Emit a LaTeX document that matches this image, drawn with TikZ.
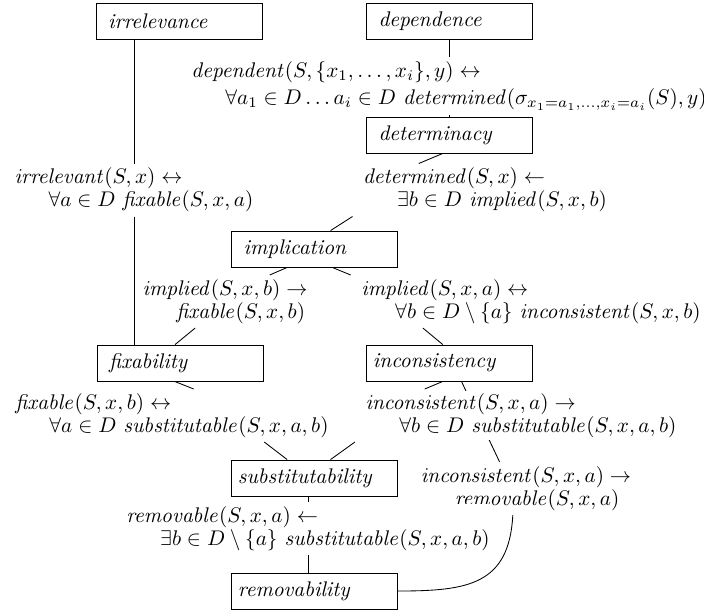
\documentclass[tikz,border=0pt]{standalone}
\usepackage{amsmath,amssymb}
\usetikzlibrary{calc,backgrounds}
\newcommand{\prd}[1]{\mathit{#1}}
\newcommand{\ind}{\hspace*{16pt}}
\newcommand{\labfont}{\fontsize{10}{11}\selectfont\lineskiplimit=-100pt\relax}

\begin{document}
\begin{tikzpicture}[x=0.4717pt,y=-0.4717pt,
    box/.style={draw,text width=66.9pt,inner xsep=5.7pt,minimum height=17pt,align=left,font=\itshape},
    wbox/.style={box,text width=72.3pt,inner xsep=3pt},
    lab/.style={fill=white,inner sep=1pt,outer xsep=4pt,outer ysep=1pt,align=left,font=\labfont}]
  \useasboundingbox (0,0) rectangle (704,611);
  % notions
  \node[box] (irr) at (179,21) {irrelevance};
  \node[box] (dep) at (449.5,21) {dependence};
  \node[box] (det) at (449.5,135) {determinacy};
  \node[box] (imp) at (314.5,249) {implication};
  \node[box] (fix) at (180,363) {fixability};
  \node[wbox] (inc) at (449.5,363) {inconsistency};
  \node[wbox] (sub) at (314.5,478) {substitutability};
  \node[wbox] (rem) at (314.5,591) {removability};
  % relations between them
  \node[lab] (depl) at (449,86) {$\prd{dependent}(S,\{x_1,\ldots,x_i\},y)\leftrightarrow$\\[2pt]
    \ind$\forall a_1\in D\ldots a_i\in D\ \prd{determined}(\sigma_{x_1=a_1,\ldots,x_i=a_i}(S),y)$};
  \node[lab] (irrl) at (134,190) {$\prd{irrelevant}(S,x)\leftrightarrow$\\
    \ind$\forall a\in D\ \prd{fixable}(S,x,a)$};
  \node[lab] (detl) at (485,190) {$\prd{determined}(S,x)\leftarrow$\\
    \ind$\exists b\in D\ \prd{implied}(S,x,b)$};
  \node[lab] (implb) at (225,301.5) {$\prd{implied}(S,x,b)\rightarrow$\\
    \ind$\prd{fixable}(S,x,b)$};
  \node[lab] (impla) at (531,301.5) {$\prd{implied}(S,x,a)\leftrightarrow$\\
    \ind$\forall b\in D\setminus\{a\}\ \prd{inconsistent}(S,x,b)$};
  \node[lab] (fixl) at (172,415.5) {$\prd{fixable}(S,x,b)\leftrightarrow$\\
    \ind$\forall a\in D\ \prd{substitutable}(S,x,a,b)$};
  \node[lab] (incl) at (521,415.5) {$\prd{inconsistent}(S,x,a)\rightarrow$\\
    \ind$\forall b\in D\ \prd{substitutable}(S,x,a,b)$};
  \node[lab] (incrl) at (526,488.5) {$\prd{inconsistent}(S,x,a)\rightarrow$\\
    \ind$\prd{removable}(S,x,a)$};
  \node[lab] (rml) at (308,528.5) {$\prd{removable}(S,x,a)\leftarrow$\\
    \ind$\exists b\in D\setminus\{a\}\ \prd{substitutable}(S,x,a,b)$};
  \begin{scope}[on background layer]
    \draw (irrl.north |- irr.south) -- (irrl.north);
    \draw (irrl.south) -- (irrl.south |- fix.north);
    \draw (depl.north |- dep.south) -- (depl.north);
    \draw (depl.south) -- (depl.south |- det.north);
    \draw (det.250) -- ($(detl.north west)!.25!(detl.north east)$);
    \draw (detl.south west) -- (imp.49);
    \draw (imp.214) -- ($(implb.north west)!.74!(implb.north east)$);
    \draw ($(implb.south west)!.34!(implb.south east)$) -- (fix.105);
    \draw (imp.314) -- (impla.north west);
    \draw ($(impla.south west)!.2!(impla.south east)$) -- (inc.110);
    \draw (fix.254) -- ($(fixl.north west)!.565!(fixl.north east)$);
    \draw ($(fixl.south west)!.776!(fixl.south east)$) -- (sub.146);
    \draw (inc.250) -- ($(incl.north west)!.21!(incl.north east)$);
    \draw (incl.south west) -- (sub.49);
    \draw (inc.303) -- ($(incrl.north west)!.386!(incrl.north east)$);
    \draw ($(incrl.south west)!.443!(incrl.south east)$) to[out=-93,in=0,looseness=1.3] (rem.east);
    \draw (rml.north |- sub.south) -- (rml.north);
    \draw (rml.south) -- (rml.south |- rem.north);
  \end{scope}
\end{tikzpicture}
\end{document}
